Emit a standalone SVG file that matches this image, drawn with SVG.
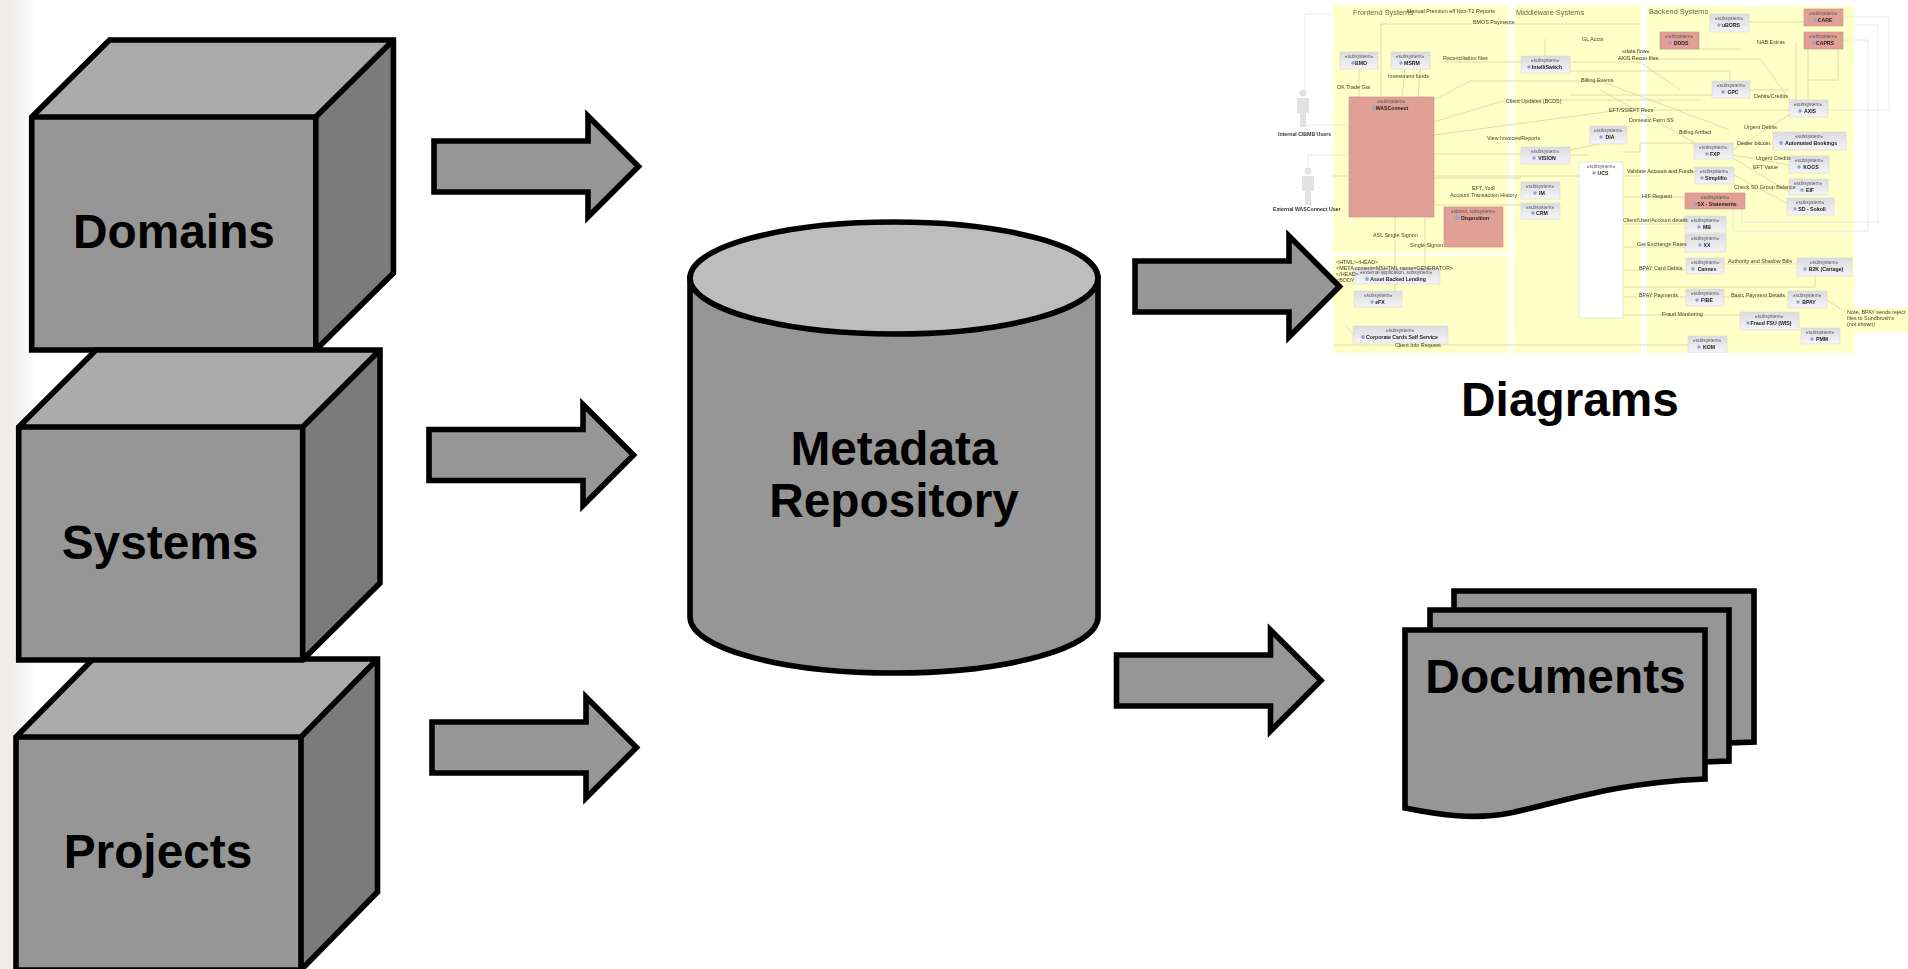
<svg xmlns="http://www.w3.org/2000/svg" width="1908" height="969" viewBox="0 0 1908 969">
<style>
.s{stroke:#000;stroke-width:5.6;stroke-linejoin:miter;stroke-miterlimit:10}
.o{fill:none}
.fr{fill:#969696}.tp{fill:#ababab}.rt{fill:#7b7b7b}
.lb{font:bold 47.8px "Liberation Sans",Arial,sans-serif;fill:#000;text-anchor:middle}
.pn{fill:#ffffc8}
.b{fill:url(#bx);stroke:#d8d8d0;stroke-width:.6}
.p{fill:#e0a096;stroke:#c89088;stroke-width:.6}
.w{fill:#fff;stroke:#d8d8d0;stroke-width:.6}
.c{fill:none;stroke:#d6d69c;stroke-width:.8}
.g{fill:none;stroke:#e4e4e0;stroke-width:.8}
.t{font:5.4px "Liberation Sans",Arial,sans-serif;fill:#444428}
.h{font:7.4px "Liberation Sans",Arial,sans-serif;fill:#66664a}
.st{font:4.8px "Liberation Sans",Arial,sans-serif;fill:#555;text-anchor:middle}
.n{font:bold 5.2px "Liberation Sans",Arial,sans-serif;fill:#222;text-anchor:middle}
.u{font:bold 5.2px "Liberation Sans",Arial,sans-serif;fill:#333}
.i{fill:#8aa4d8}
</style>
<defs>
<linearGradient id="edge" x1="0" x2="1" y1="0" y2="0"><stop offset="0" stop-color="#f0ecec"/><stop offset=".35" stop-color="#f0ecec"/><stop offset="1" stop-color="#fff"/></linearGradient>
<linearGradient id="bx" x1="0" x2="0" y1="0" y2="1"><stop offset="0" stop-color="#dcdce0"/><stop offset="1" stop-color="#f4f4f8"/></linearGradient>
<filter id="soft" x="0" y="0" width="1" height="1"><feGaussianBlur stdDeviation=".6"/></filter>
<polygon id="arrow" class="s fr" points="434,141 588,141 588,116 638.5,166.5 588,217 588,192 434,192"/>
</defs>
<rect width="1908" height="969" fill="#fff"/>
<rect width="36" height="969" fill="url(#edge)"/>

<g id="diagrams">
<g id="diagram-thumbnail" filter="url(#soft)">
<rect class="pn" x="1333" y="5" width="176" height="248"/>
<rect class="pn" x="1333" y="256" width="176" height="97"/>
<rect class="pn" x="1514" y="5" width="127" height="348"/>
<rect class="pn" x="1647" y="6" width="207" height="347"/>
<path class="pn" d="M1845,308H1908V332H1845Z"/>
<g id="thumb-links">
<path class="g" d="M1305,90V14H1333M1305,125H1349M1308,155H1349M1308,165V155"/>
<path class="g" d="M1843,17H1889V110H1828M1843,40H1868V231H1733V209M1854,25H1878V222H1742V209"/>
<path class="c" d="M1381,97V24H1473M1504,24H1640M1359,69V97M1405,69L1402,97M1420,69L1418,97M1443,62H1521M1545,39V56M1570,62H1640L1680,90M1434,122L1506,100H1700M1434,135L1620,110H1789M1434,100L1470,81H1600L1730,130"/>
<path class="c" d="M1434,154H1521M1434,178H1521M1434,205H1521M1395,217V300H1402M1425,217V268M1333,176H1640M1570,155H1590M1599,144L1570,150"/>
<path class="c" d="M1618,59H1760L1790,100M1570,71H1730V98M1570,95H1712M1750,90H1789M1808,100V49M1808,80H1838V49M1749,22H1804M1795,43H1796V100M1741,49H1660"/>
<path class="c" d="M1600,90L1695,143M1733,150L1789,115M1733,155L1790,165M1733,158L1789,192M1734,175L1790,205M1737,144H1773M1650,172H1695M1623,152H1640V143H1694"/>
<path class="c" d="M1623,197H1685M1623,224H1685M1623,247H1685M1623,270H1686M1724,264H1797M1724,297H1788M1623,287H1815V276M1623,297H1686M1623,315H1740M1827,300L1845,312M1333,345H1688M1345,325L1353,334"/>
</g>
<g id="thumb-users" fill="#e2e2e2">
<circle cx="1303" cy="93" r="3.5"/><rect x="1297" y="98" width="12" height="15"/><rect x="1300" y="113" width="6" height="14"/>
<circle cx="1308" cy="171" r="3.5"/><rect x="1302" y="176" width="12" height="15"/><rect x="1305" y="191" width="6" height="14"/>
</g>
<g id="thumb-bmo"><rect class="b" x="1340" y="52" width="38" height="17"/><text class="st" x="1359" y="58">«subsystem»</text><circle class="i" cx="1353" cy="63" r="1.7"/><text class="n" x="1361" y="65">BMO</text></g>
<g id="thumb-wsm"><rect class="b" x="1391" y="52" width="39" height="17"/><text class="st" x="1410" y="58">«subsystem»</text><circle class="i" cx="1401" cy="63" r="1.7"/><text class="n" x="1412" y="65">MSRM</text></g>
<g id="thumb-intelliswitch"><rect class="b" x="1521" y="56" width="49" height="17"/><text class="st" x="1545" y="62">«subsystem»</text><circle class="i" cx="1529" cy="67" r="1.7"/><text class="n" x="1547" y="69">IntelliSwitch</text></g>
<g id="thumb-connect"><rect class="p" x="1349" y="97" width="85" height="120"/><text class="st" x="1391" y="103">«subsystem»</text><circle class="i" cx="1374" cy="108" r="1.9"/><text class="n" x="1392" y="110">WASConnect</text></g>
<g id="thumb-vision"><rect class="b" x="1521" y="147" width="49" height="17"/><text class="st" x="1545" y="153">«subsystem»</text><circle class="i" cx="1534" cy="158" r="1.7"/><text class="n" x="1547" y="160">VISION</text></g>
<g id="thumb-dia"><rect class="b" x="1590" y="126" width="37" height="18"/><text class="st" x="1608" y="132">«subsystem»</text><circle class="i" cx="1601" cy="137" r="1.7"/><text class="n" x="1610" y="139">DIA</text></g>
<g id="thumb-ucs"><rect class="w" x="1579" y="162" width="44" height="156"/><text class="st" x="1601" y="168">«subsystem»</text><circle class="i" cx="1594" cy="173" r="1.7"/><text class="n" x="1603" y="175">UCS</text></g>
<g id="thumb-im"><rect class="b" x="1521" y="182" width="39" height="17"/><text class="st" x="1540" y="188">«subsystem»</text><circle class="i" cx="1535" cy="193" r="1.7"/><text class="n" x="1542" y="195">IM</text></g>
<g id="thumb-crm"><rect class="b" x="1521" y="203" width="39" height="16"/><text class="st" x="1540" y="209">«subsystem»</text><circle class="i" cx="1533" cy="213" r="1.7"/><text class="n" x="1542" y="215">CRM</text></g>
<g id="thumb-disposition"><rect class="p" x="1444" y="207" width="59" height="40"/><text class="st" x="1473" y="213">«stored, subsystem»</text><circle class="i" cx="1457" cy="218" r="1.9"/><text class="n" x="1475" y="220">Disposition</text></g>
<g id="thumb-abl"><rect class="b" x="1353" y="268" width="87" height="16"/><text class="st" x="1396" y="274">«external application, subsystem»</text><circle class="i" cx="1367" cy="279" r="1.9"/><text class="n" x="1398" y="281">Asset Backed Lending</text></g>
<g id="thumb-efx"><rect class="b" x="1354" y="291" width="48" height="16"/><text class="st" x="1378" y="297">«subsystem»</text><circle class="i" cx="1372" cy="302" r="1.7"/><text class="n" x="1380" y="304">eFX</text></g>
<g id="thumb-ccss"><rect class="b" x="1353" y="326" width="95" height="17"/><text class="st" x="1400" y="332">«subsystem»</text><circle class="i" cx="1363" cy="337" r="1.9"/><text class="n" x="1402" y="339">Corporate Cards Self Service</text></g>
<g id="thumb-ubors"><rect class="b" x="1710" y="14" width="39" height="18"/><text class="st" x="1729" y="20">«subsystem»</text><circle class="i" cx="1719" cy="25" r="1.7"/><text class="n" x="1731" y="27">uBORS</text></g>
<g id="thumb-ddds"><rect class="p" x="1660" y="32" width="39" height="17"/><text class="st" x="1679" y="38">«subsystem»</text><circle class="i" cx="1670" cy="43" r="1.7"/><text class="n" x="1681" y="45">DDDS</text></g>
<g id="thumb-care"><rect class="p" x="1804" y="9" width="39" height="17"/><text class="st" x="1823" y="15">«subsystem»</text><circle class="i" cx="1815" cy="20" r="1.7"/><text class="n" x="1825" y="22">CARE</text></g>
<g id="thumb-caprs"><rect class="p" x="1804" y="32" width="39" height="17"/><text class="st" x="1823" y="38">«subsystem»</text><circle class="i" cx="1814" cy="43" r="1.7"/><text class="n" x="1825" y="45">CAPRS</text></g>
<g id="thumb-gpc"><rect class="b" x="1712" y="81" width="38" height="17"/><text class="st" x="1731" y="87">«subsystem»</text><circle class="i" cx="1723" cy="92" r="1.7"/><text class="n" x="1733" y="94">GPC</text></g>
<g id="thumb-axis"><rect class="b" x="1789" y="100" width="39" height="17"/><text class="st" x="1808" y="106">«subsystem»</text><circle class="i" cx="1800" cy="111" r="1.7"/><text class="n" x="1810" y="113">AXIS</text></g>
<g id="thumb-bookings"><rect class="b" x="1773" y="132" width="73" height="18"/><text class="st" x="1809" y="138">«subsystem»</text><circle class="i" cx="1781" cy="143" r="1.9"/><text class="n" x="1811" y="145">Automated Bookings</text></g>
<g id="thumb-fxp"><rect class="b" x="1694" y="143" width="39" height="16"/><text class="st" x="1713" y="149">«subsystem»</text><circle class="i" cx="1707" cy="154" r="1.7"/><text class="n" x="1715" y="156">FXP</text></g>
<g id="thumb-kogs"><rect class="b" x="1789" y="156" width="40" height="17"/><text class="st" x="1809" y="162">«subsystem»</text><circle class="i" cx="1799" cy="167" r="1.7"/><text class="n" x="1811" y="169">KOGS</text></g>
<g id="thumb-simplifio"><rect class="b" x="1695" y="167" width="39" height="17"/><text class="st" x="1714" y="173">«subsystem»</text><circle class="i" cx="1702" cy="178" r="1.7"/><text class="n" x="1716" y="180">Simplifio</text></g>
<g id="thumb-eif"><rect class="b" x="1789" y="179" width="39" height="16"/><text class="st" x="1808" y="185">«subsystem»</text><circle class="i" cx="1802" cy="190" r="1.7"/><text class="n" x="1810" y="192">EIF</text></g>
<g id="thumb-sx"><rect class="p" x="1685" y="193" width="60" height="16"/><text class="st" x="1715" y="199">«subsystem»</text><circle class="i" cx="1695" cy="204" r="1.7"/><text class="n" x="1717" y="206">SX - Statements</text></g>
<g id="thumb-sd"><rect class="b" x="1787" y="198" width="47" height="17"/><text class="st" x="1810" y="204">«subsystem»</text><circle class="i" cx="1795" cy="209" r="1.7"/><text class="n" x="1812" y="211">SD - Sokoll</text></g>
<g id="thumb-mb"><rect class="b" x="1685" y="216" width="41" height="17"/><text class="st" x="1705" y="222">«subsystem»</text><circle class="i" cx="1699" cy="227" r="1.7"/><text class="n" x="1707" y="229">MB</text></g>
<g id="thumb-xx"><rect class="b" x="1685" y="234" width="41" height="18"/><text class="st" x="1705" y="240">«subsystem»</text><circle class="i" cx="1700" cy="245" r="1.7"/><text class="n" x="1707" y="247">XX</text></g>
<g id="thumb-cannes"><rect class="b" x="1686" y="258" width="38" height="16"/><text class="st" x="1705" y="264">«subsystem»</text><circle class="i" cx="1693" cy="269" r="1.7"/><text class="n" x="1707" y="271">Cannes</text></g>
<g id="thumb-b2k"><rect class="b" x="1797" y="258" width="55" height="18"/><text class="st" x="1824" y="264">«subsystem»</text><circle class="i" cx="1805" cy="269" r="1.7"/><text class="n" x="1826" y="271">B2K (Cartage)</text></g>
<g id="thumb-fibe"><rect class="b" x="1686" y="289" width="38" height="17"/><text class="st" x="1705" y="295">«subsystem»</text><circle class="i" cx="1697" cy="300" r="1.7"/><text class="n" x="1707" y="302">FIBE</text></g>
<g id="thumb-bpay"><rect class="b" x="1788" y="291" width="39" height="17"/><text class="st" x="1807" y="297">«subsystem»</text><circle class="i" cx="1798" cy="302" r="1.7"/><text class="n" x="1809" y="304">BPAY</text></g>
<g id="thumb-fraud"><rect class="b" x="1740" y="312" width="59" height="18"/><text class="st" x="1769" y="318">«subsystem»</text><circle class="i" cx="1748" cy="323" r="1.7"/><text class="n" x="1771" y="325">Fraud FSU (WIS)</text></g>
<g id="thumb-pmm"><rect class="b" x="1801" y="328" width="39" height="16"/><text class="st" x="1820" y="334">«subsystem»</text><circle class="i" cx="1812" cy="339" r="1.7"/><text class="n" x="1822" y="341">PMM</text></g>
<g id="thumb-kom"><rect class="b" x="1688" y="336" width="39" height="17"/><text class="st" x="1707" y="342">«subsystem»</text><circle class="i" cx="1699" cy="347" r="1.7"/><text class="n" x="1709" y="349">KOM</text></g>
<g id="thumb-labels">
<text class="h" x="1353" y="15">Frontend Systems</text><text class="h" x="1516" y="15">Middleware Systems</text><text class="h" x="1649" y="14">Backend Systems</text>
<text class="t" x="1407" y="13">Manual Premium eff Non-T2 Reports</text><text class="t" x="1473" y="24">BMOS Payments</text><text class="t" x="1443" y="60">Reconciliation files</text><text class="t" x="1388" y="78">Investment funds</text><text class="t" x="1337" y="89">OK Trade Gia</text><text class="t" x="1506" y="103">Client Updates (BCDS)</text><text class="t" x="1487" y="140">View Invoices/Reports</text><text class="t" x="1582" y="41">GL Accts</text><text class="t" x="1581" y="82">Billing Events</text>
<text class="u" x="1278" y="136">Internal CIBMB Users</text><text class="u" x="1273" y="211">External WASConnect User</text>
<text class="t" x="1472" y="190">EFT, Yodl</text><text class="t" x="1450" y="197">Account Transaction History</text><text class="t" x="1373" y="237">ASL Single Signon</text><text class="t" x="1410" y="247">Single Signon</text><text class="t" x="1336" y="264">&lt;HTML&gt;&lt;HEAD&gt;</text><text class="t" x="1336" y="270">&lt;META content=MSHTML name=GENERATOR&gt;</text><text class="t" x="1336" y="276">&lt;/HEAD&gt;</text><text class="t" x="1336" y="282">&lt;BODY</text><text class="t" x="1395" y="347">Client Info Request</text>
<text class="t" x="1622" y="53">«data flow»</text><text class="t" x="1618" y="60">AXIS Recon files</text><text class="t" x="1757" y="44">NAB Extras</text><text class="t" x="1754" y="98">Debits/Credits</text><text class="t" x="1609" y="112">EFT/SS/EFT Recs</text><text class="t" x="1629" y="122">Domestic Fwrn SS</text><text class="t" x="1679" y="134">Billing Artifact</text><text class="t" x="1744" y="129">Urgent Debits</text><text class="t" x="1737" y="145">Dealer bitcoin</text><text class="t" x="1756" y="160">Urgent Credits</text><text class="t" x="1753" y="169">EFT Value</text><text class="t" x="1627" y="173">Validate Account and Funds</text><text class="t" x="1734" y="189">Check SD Group Balance</text>
<text class="t" x="1642" y="198">HIF Request</text><text class="t" x="1623" y="222">Client/User/Account details</text><text class="t" x="1637" y="246">Get Exchange Rates</text><text class="t" x="1639" y="270">BPAY Card Debits</text><text class="t" x="1728" y="263">Authority and Shadow Bills</text><text class="t" x="1639" y="297">BPAY Payments</text><text class="t" x="1731" y="297">Basic Payment Details</text><text class="t" x="1662" y="316">Fraud Monitoring</text>
<text class="t" x="1847" y="314">Note, BPAY sends reject</text><text class="t" x="1847" y="320">files to Sundbrush's</text><text class="t" x="1847" y="326">(not shown)</text>
</g>
</g>
<text class="lb" x="1570" y="416">Diagrams</text>
</g>

<g id="domains">
<polygon class="tp" points="31.7,117 109.5,40 393.4,40 315.8,117"/>
<polygon class="rt" points="315.8,117 393.4,40 393.4,273 315.8,350"/>
<rect class="fr" x="31.7" y="117" width="284.1" height="233"/>
<path class="s o" d="M31.7,117L109.5,40H393.4V273L315.8,350H31.7ZM31.7,117H315.8L393.4,40M315.8,117V350"/>
<text class="lb" x="174" y="248">Domains</text>
</g>
<g id="projects">
<polygon class="tp" points="16,737 93,659 377.5,659 301,737"/>
<polygon class="rt" points="301,737 377.5,659 377.5,892 301,970"/>
<rect class="fr" x="16" y="737" width="285" height="233"/>
<path class="s o" d="M16,737L93,659H377.5V892L301,970H16ZM16,737H301L377.5,659M301,737V970"/>
<text class="lb" x="158" y="868">Projects</text>
</g>
<g id="systems">
<polygon class="tp" points="18.7,427 96,350 380,350 302.7,427"/>
<polygon class="rt" points="302.7,427 380,350 380,583 302.7,660"/>
<rect class="fr" x="18.7" y="427" width="284" height="233"/>
<path class="s o" d="M18.7,427L96,350H380V583L302.7,660H18.7ZM18.7,427H302.7L380,350M302.7,427V660"/>
<text class="lb" x="160" y="559">Systems</text>
</g>

<g id="metadata-repository">
<path class="s fr" d="M690,278V617C690,648 781,673 894,673C1007,673 1098,648 1098,617V278Z"/>
<ellipse class="s" cx="894" cy="278" rx="204" ry="56" fill="#bdbdbd"/>
<text class="lb" x="894" y="465">Metadata</text>
<text class="lb" x="894" y="517">Repository</text>
</g>

<g id="documents">
<path class="s fr" d="M1454,591H1754V742L1725,743V700H1454Z"/>
<path class="s fr" d="M1430,610H1729V761L1700,762V700H1430Z"/>
<path class="s fr" d="M1405,630H1705V779C1610,783 1560,803 1510,813C1475,820 1440,815 1405,808Z"/>
<text class="lb" x="1555.5" y="693">Documents</text>
</g>

<g id="connectors">
<use href="#arrow"/>
<use href="#arrow" transform="translate(-5 288.5)"/>
<use href="#arrow" transform="translate(-2 581)"/>
<use href="#arrow" transform="translate(701 120)"/>
<use href="#arrow" transform="translate(682.5 514)"/>
</g>
</svg>
